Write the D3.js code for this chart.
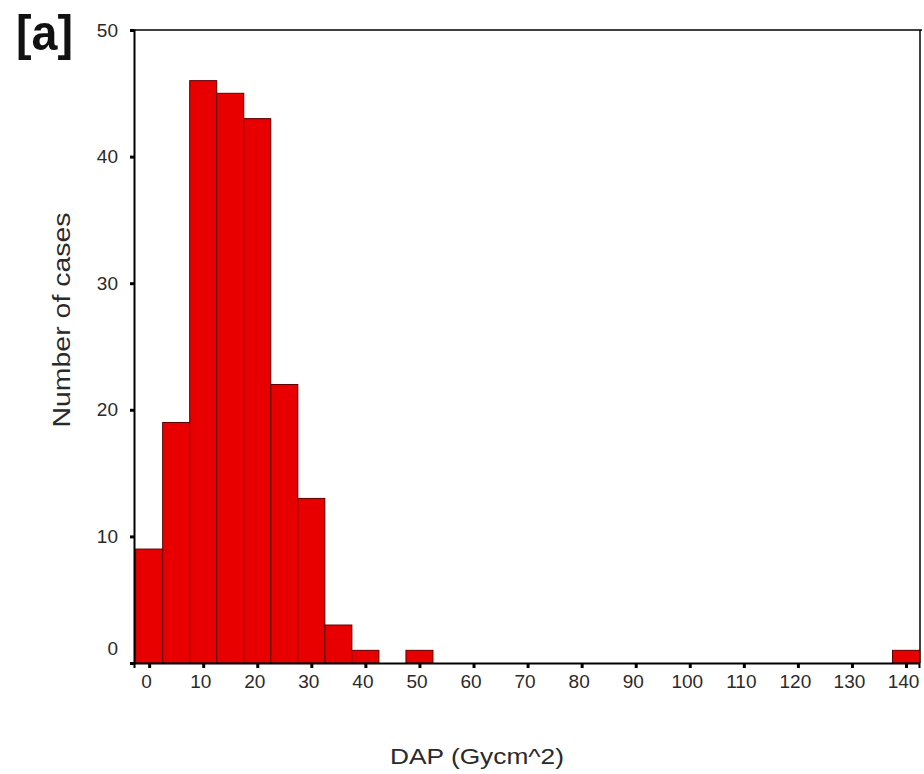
<!DOCTYPE html>
<html>
<head>
<meta charset="utf-8">
<script src="https://cdn.jsdelivr.net/npm/d3@7"></script>
<style>
  body { margin: 0; background: #fff; }
  svg text { font-family: "Liberation Sans", Arial, sans-serif; }
</style>
</head>
<body>
<div id="chart"></div>
<script>
// histogram bins (centre of bin, width 5)
const binCentres = [0, 5, 10, 15, 20, 25, 30, 35, 40, 50, 140];
const binCounts = [9, 19, 46, 45, 43, 22, 13, 3, 1, 1, 1];
const binWidth = 5;
const xTicks = [0, 10, 20, 30, 40, 50, 60, 70, 80, 90, 100, 110, 120, 130, 140];
const yTicks = [0, 10, 20, 30, 40, 50];

const W = 924, H = 774;
const plotLeft = 134, plotRight = 919, plotTop = 30, plotBottom = 663;

const svg = d3.select('#chart').append('svg')
  .attr('width', W).attr('height', H);

const x = d3.scaleLinear().domain([-2.8, 142.4]).range([plotLeft, plotRight]);
const y = d3.scaleLinear().domain([0, 50]).range([plotBottom, plotTop]);

// bars
svg.selectAll('rect.bar')
  .data(binCentres)
  .enter().append('rect')
  .attr('class', 'bar')
  .attr('x', (d) => x(d - binWidth / 2))
  .attr('width', (d) => x(d + binWidth / 2) - x(d - binWidth / 2))
  .attr('y', (d, i) => y(binCounts[i]))
  .attr('height', (d, i) => plotBottom - y(binCounts[i]))
  .attr('fill', '#e80000')
  .attr('stroke', '#5c0000')
  .attr('stroke-width', 1);

// frame
svg.append('line').attr('x1', plotLeft).attr('x2', 922).attr('y1', plotTop).attr('y2', plotTop)
  .attr('stroke', '#000').attr('stroke-width', 1.5);
svg.append('line').attr('x1', plotRight + 1).attr('x2', plotRight + 1).attr('y1', plotTop).attr('y2', plotBottom)
  .attr('stroke', '#000').attr('stroke-width', 1.5);

// y axis
const yAxis = svg.append('g')
  .attr('transform', 'translate(' + plotLeft + ',0)')
  .call(d3.axisLeft(y).tickValues(yTicks).tickSize(4).tickPadding(12));
yAxis.select('.domain').attr('stroke-width', 2);
yAxis.selectAll('.tick line').attr('stroke-width', 3);
yAxis.selectAll('.tick text').attr('font-size', 19).attr('fill', '#2a2a2a')
  .attr('font-family', '"Liberation Sans", Arial, sans-serif');
// the zero label sits above its tick in the original
yAxis.selectAll('.tick text').filter((d) => d === 0).attr('y', -15);

// x axis
const xAxis = svg.append('g')
  .attr('transform', 'translate(0,' + plotBottom + ')')
  .call(d3.axisBottom(x).tickValues(xTicks).tickSize(5).tickPadding(7));
xAxis.select('.domain').attr('stroke-width', 2);
xAxis.selectAll('.tick line').attr('stroke-width', 3);
xAxis.selectAll('.tick text').attr('font-size', 19).attr('fill', '#2a2a2a')
  .attr('dx', -3)
  .attr('font-family', '"Liberation Sans", Arial, sans-serif');

// titles
svg.append('text')
  .attr('transform', 'translate(70,320) rotate(-90)')
  .attr('text-anchor', 'middle')
  .attr('font-size', 23).attr('fill', '#2a2a2a')
  .attr('textLength', 215).attr('lengthAdjust', 'spacingAndGlyphs')
  .text('Number of cases');

svg.append('text')
  .attr('x', 477).attr('y', 764)
  .attr('text-anchor', 'middle')
  .attr('font-size', 22).attr('fill', '#2a2a2a')
  .attr('textLength', 174).attr('lengthAdjust', 'spacingAndGlyphs')
  .text('DAP (Gycm^2)');

svg.append('text')
  .attr('x', 16).attr('y', 50)
  .attr('font-size', 50).attr('font-weight', 'bold').attr('fill', '#111')
  .attr('textLength', 57).attr('lengthAdjust', 'spacingAndGlyphs')
  .text('[a]');
</script>
</body>
</html>
